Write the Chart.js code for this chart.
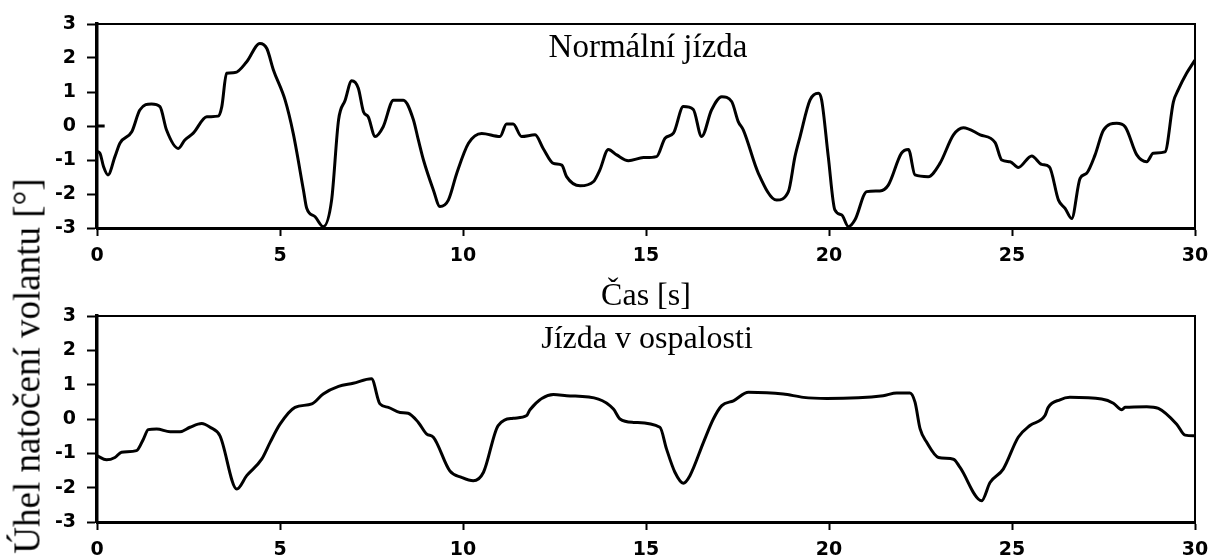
<!DOCTYPE html>
<html><head><meta charset="utf-8">
<script src="https://cdn.jsdelivr.net/npm/chart.js@4"></script>
<style>
html,body{margin:0;padding:0;background:#fff;width:1210px;height:560px;overflow:hidden;}
body{position:relative;}
#c1{position:absolute;left:0;top:0;}
#c2{position:absolute;left:0;top:290px;}
.lbl{position:absolute;font-family:"Liberation Serif","Times New Roman",serif;color:#000;white-space:nowrap;line-height:1;transform:translate(-50%,-50%);}
#ylab{transform:translate(-50%,-50%) rotate(-90deg);}
</style></head>
<body>
<canvas id="c1" width="1240" height="330"></canvas>
<canvas id="c2" width="1240" height="270"></canvas>
<div class="lbl" style="left:648px;top:46px;font-size:33px;">Normální jízda</div>
<div class="lbl" style="left:647px;top:337px;font-size:32px;">Jízda v ospalosti</div>
<div class="lbl" id="ylab" style="left:27px;top:366px;font-size:37px;">Úhel natočení volantu [°]</div>
<script>
// ---- data ----
const xTicks = [0, 5, 10, 15, 20, 25, 30];
const yTicks = [-3, -2, -1, 0, 1, 2, 3];

const normalTime = [0, 0.08, 0.18, 0.3, 0.49, 0.63, 0.95, 1.17, 1.49, 1.72,
  1.9, 2.22, 2.4, 2.63, 3.0, 3.31, 3.41, 3.54, 3.77, 4.09,
  4.45, 4.64, 4.82, 5.14, 5.36, 5.64, 5.73, 5.96, 6.18, 6.41,
  6.6, 6.78, 6.96, 7.14, 7.28, 7.41, 7.6, 7.82, 8.1, 8.37,
  8.64, 8.78, 8.92, 9.19, 9.37, 9.6, 9.83, 10.15, 10.51, 11.01,
  11.19, 11.37, 11.6, 11.97, 12.19, 12.47, 12.7, 12.83, 13.2, 13.56,
  13.74, 13.97, 14.2, 14.52, 14.93, 15.29, 15.52, 15.75, 16.02, 16.29,
  16.52, 16.79, 17.07, 17.34, 17.52, 17.66, 18.07, 18.57, 18.89, 19.07,
  19.21, 19.48, 19.71, 19.8, 19.98, 20.16, 20.35, 20.53, 20.71, 21.03,
  21.39, 21.62, 21.98, 22.17, 22.35, 22.71, 23.03, 23.4, 23.67, 24.13,
  24.54, 24.72, 24.95, 25.17, 25.54, 25.81, 26.02, 26.27, 26.45, 26.63,
  26.86, 27.04, 27.27, 27.5, 27.86, 28.09, 28.41, 28.68, 28.86, 29.18,
  29.41, 29.54, 29.77, 30];
const normalAngle = [-0.75, -0.8, -1.2, -1.44, -0.9, -0.5, -0.17, 0.47, 0.65, 0.57,
  -0.12, -0.66, -0.41, -0.21, 0.27, 0.29, 0.57, 1.55, 1.57, 1.89,
  2.43, 2.28, 1.65, 0.76, -0.21, -1.88, -2.42, -2.67, -2.96, -2.18,
  0.18, 0.76, 1.33, 1.11, 0.42, 0.27, -0.31, -0.02, 0.76, 0.76,
  0.2, -0.41, -1.0, -1.88, -2.37, -2.18, -1.39, -0.51, -0.22, -0.31,
  0.06, 0.06, -0.31, -0.26, -0.66, -1.1, -1.15, -1.49, -1.76, -1.64,
  -1.29, -0.69, -0.85, -1.02, -0.93, -0.9, -0.36, -0.21, 0.57, 0.49,
  -0.31, 0.47, 0.86, 0.72, 0.13, -0.12, -1.39, -2.18, -1.93, -0.9,
  -0.31, 0.76, 0.96, 0.76, -0.9, -2.47, -2.62, -2.96, -2.76, -1.93,
  -1.91, -1.74, -0.8, -0.69, -1.44, -1.49, -1.1, -0.26, -0.05, -0.26,
  -0.49, -1.0, -1.05, -1.22, -0.88, -1.13, -1.2, -2.18, -2.42, -2.72,
  -1.54, -1.39, -0.85, -0.12, 0.08, -0.02, -0.85, -1.05, -0.8, -0.76,
  0.71, 1.06, 1.55, 1.94];

const drowsyTime = [0, 0.26, 0.49, 0.67, 1.08, 1.27, 1.4, 1.63, 2.0, 2.27,
  2.54, 2.86, 3.09, 3.36, 3.82, 4.09, 4.5, 4.73, 5.0, 5.41,
  5.87, 6.18, 6.6, 7.0, 7.5, 7.73, 7.96, 8.28, 8.5, 8.78,
  9.01, 9.19, 9.64, 9.96, 10.28, 10.56, 10.96, 11.37, 11.74, 11.83,
  12.47, 12.83, 13.7, 14.11, 14.29, 14.66, 15.38, 15.56, 15.79, 16.02,
  16.2, 16.57, 16.84, 17.07, 17.39, 17.8, 18.75, 19.3, 19.94, 21.48,
  21.85, 22.21, 22.35, 22.49, 22.67, 22.99, 23.4, 23.58, 24.17, 24.4,
  24.76, 25.17, 25.49, 25.9, 25.99, 26.31, 26.58, 27.45, 27.77, 28.0,
  28.09, 28.68, 29.0, 29.5, 29.73, 30];
const drowsyAngle = [-1.07, -1.19, -1.12, -0.97, -0.92, -0.58, -0.31, -0.29, -0.37, -0.37,
  -0.24, -0.13, -0.24, -0.49, -2.04, -1.65, -1.17, -0.68, -0.15, 0.34,
  0.44, 0.73, 0.95, 1.04, 1.17, 0.44, 0.34, 0.19, 0.17, -0.1,
  -0.44, -0.53, -1.51, -1.7, -1.8, -1.55, -0.19, 0.02, 0.1, 0.27,
  0.71, 0.68, 0.58, 0.29, 0.0, -0.1, -0.24, -0.87, -1.55, -1.87,
  -1.65, -0.68, 0.0, 0.39, 0.53, 0.78, 0.73, 0.63, 0.6, 0.68,
  0.76, 0.76, 0.49, -0.29, -0.68, -1.12, -1.17, -1.41, -2.38, -1.85,
  -1.46, -0.53, -0.19, 0.1, 0.34, 0.56, 0.63, 0.58, 0.46, 0.27,
  0.34, 0.36, 0.31, -0.15, -0.47, -0.49];

const markerTime = [0.1];
const markerAngle = [0];

const xTitleText = 'Čas [s]';

// ---- charts ----
const tickFont = {family: '"DejaVu Sans", sans-serif', weight: 'bold', size: 19};

function makePanel(id, times, angles, mTimes, mAngles, o) {
  const datasets = [{
    data: times.map((t, i) => ({x: t, y: angles[i]})),
    borderColor: '#000', borderWidth: 3, pointRadius: 0,
    cubicInterpolationMode: 'monotone', fill: false
  }];
  if (mTimes) {
    datasets.push({
      data: mTimes.map((t, i) => ({x: t, y: mAngles[i]})),
      showLine: false, pointStyle: 'line', pointRadius: 4,
      borderColor: '#000', borderWidth: 3
    });
  }
  return new Chart(document.getElementById(id), {
    type: 'line',
    data: {datasets},
    options: {
      responsive: false, animation: false, events: [],
      layout: {padding: {top: o.top, right: 45, left: 0, bottom: 0}},
      plugins: {legend: {display: false}, tooltip: {enabled: false}},
      scales: {
        x: {
          type: 'linear', position: 'bottom', min: 0, max: 30,
          afterBuildTicks: s => { s.ticks = xTicks.map(v => ({value: v})); },
          afterFit: s => { s.height = o.xh; },
          grid: {display: true, drawOnChartArea: false, drawTicks: true, tickLength: 8, tickWidth: 2, tickColor: '#000', color: '#000'},
          border: {display: true, width: 3, color: '#000'},
          ticks: {color: '#000', padding: 9, font: tickFont, maxRotation: 0, autoSkip: false},
          title: o.xTitle ? {display: true, text: o.xTitle, color: '#000',
            font: {family: '"Liberation Serif", "Times New Roman", serif', size: 32},
            padding: {top: 0, bottom: 14}} : {display: false}
        },
        y: {
          type: 'linear', position: 'left', min: -3, max: 3,
          afterBuildTicks: s => { s.ticks = yTicks.map(v => ({value: v})); },
          afterFit: s => { s.width = 97; },
          grid: {display: true, drawOnChartArea: false, drawTicks: true, tickLength: 10, tickWidth: 2, tickColor: '#000', color: '#000'},
          border: {display: true, width: 3.5, color: '#000'},
          ticks: {color: '#000', padding: 11, font: tickFont, autoSkip: false}
        },
        x2: {
          type: 'linear', position: 'top', display: true,
          grid: {display: false, drawTicks: false},
          ticks: {display: false},
          border: {display: true, width: 2, color: '#000'}
        },
        y2: {
          type: 'linear', position: 'right', display: true,
          grid: {display: false, drawTicks: false},
          ticks: {display: false},
          border: {display: true, width: 2, color: '#000'}
        }
      }
    }
  });
}

makePanel('c1', normalTime, normalAngle, markerTime, markerAngle, {top: 24, xh: 102, xTitle: xTitleText});
makePanel('c2', drowsyTime, drowsyAngle, null, null, {top: 26, xh: 38});
</script>
</body></html>
